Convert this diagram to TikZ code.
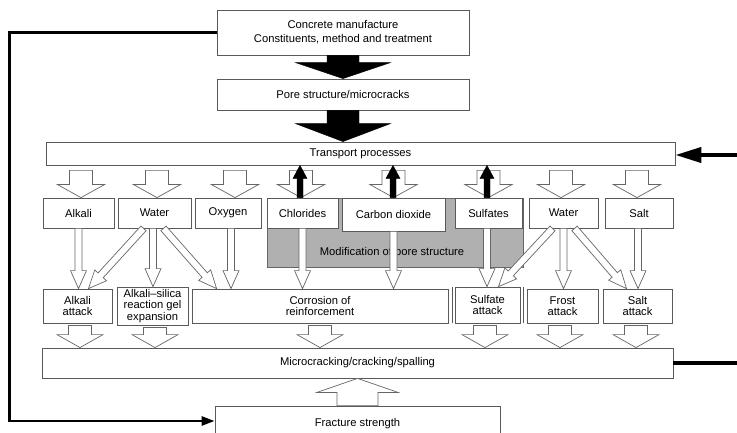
\documentclass[tikz,border=0pt]{standalone}
\usepackage{fontspec}
\setmainfont{Liberation Sans}
\usetikzlibrary{calc,arrows.meta}
\newcommand\fsz{\fontsize{11.2}{11.4}\selectfont}
% hollow / filled block arrow: [style]{start}{end}{half shaft}{half head}{head length}
\newcommand\harr[6][hollow]{%
  \coordinate (hA) at #2; \coordinate (hB) at #3;
  \coordinate (hC) at ($(hB)!#6!(hA)$);
  \draw[#1] ($(hA)!#4!90:(hB)$) -- ($(hC)!#4!-90:(hA)$) -- ($(hC)!#5!-90:(hA)$) -- (hB)
    -- ($(hC)!#5!90:(hA)$) -- ($(hC)!#4!90:(hA)$) -- ($(hA)!#4!-90:(hB)$) -- cycle;}
\tikzset{
  box/.style={draw=black!65, line width=0.8pt, fill=white, inner sep=1pt, align=center, font=\fsz},
  greybox/.style={draw=black!60, line width=0.8pt, fill=gray!62},
  hollow/.style={draw=black!60, line width=0.7pt, fill=white, line join=miter},
  blackarr/.style={draw=black, fill=black, line width=0.4pt},
  feed/.style={draw=black, line width=2.6pt},
}
\begin{document}
\begin{tikzpicture}[x=1pt,y=-1pt]
\useasboundingbox[fill=white] (0,0) rectangle (737,433);
% main column
\node[box, minimum width=252, minimum height=45] (top) at (343,32.5)
  {Concrete manufacture\\[2.5pt]Constituents, method and treatment};
\node[box, minimum width=252, minimum height=31] (pore) at (343,94.5) {Pore structure/microcracks};
\node[box, minimum width=629, minimum height=23] (transport) at (360.5,153.5) {Transport processes};
% grey area
\node[greybox, minimum width=256, minimum height=69] (grey) at (395,232.5) {};
\node[font=\fsz, inner sep=0pt] (modtxt) at (392,253) {Modification of pore structure};
% first row
\node[box, minimum width=71, minimum height=30] (alkali) at (78.5,213) {Alkali};
\node[box, minimum width=73, minimum height=30] (water) at (154.5,213) {Water};
\node[box, minimum width=66, minimum height=30] (oxygen) at (228,213) {Oxygen};
\node[box, minimum width=71, minimum height=30] (chlorides) at (302.5,213) {Chlorides};
\node[box, minimum width=103, minimum height=33] (co2) at (393.5,214.5) {Carbon dioxide};
\node[box, minimum width=67, minimum height=30] (sulfates) at (488.5,213) {Sulfates};
\node[box, minimum width=69, minimum height=30] (water2) at (563.5,213) {Water};
\node[box, minimum width=68, minimum height=30] (salt) at (639,213) {Salt};
% second row
\node[box, minimum width=69, minimum height=34] (aatk) at (77.5,306) {Alkali\\attack};
\node[box, minimum width=71, minimum height=38] (asr) at (152.5,306) {Alkali--silica\\reaction gel\\expansion};
\node[box, minimum width=256, minimum height=34] (corr) at (320,306) {Corrosion of\\reinforcement};
\node[box, minimum width=65, minimum height=36] (satk) at (487.5,305) {Sulfate\\attack};
\node[box, minimum width=71, minimum height=34] (frost) at (562.5,306) {Frost\\attack};
\node[box, minimum width=69, minimum height=34] (saltatk) at (637.5,306) {Salt\\attack};
\draw[draw=black!65, line width=0.8pt] ([xshift=-2.5pt]satk.north west) -- ([xshift=-2.5pt]satk.south west);
\draw[draw=black!65, line width=0.8pt] ([xshift=2.5pt]satk.north east) -- ([xshift=2.5pt]satk.south east);
% lower boxes
\node[box, minimum width=631, minimum height=30] (micro) at (357.5,363) {Microcracking/cracking/spalling};
\node[box, minimum width=285, minimum height=34, text depth=0pt] (fracture) at (357.5,423) {\raisebox{2pt}{Fracture strength}};

% black arrows in main column
\harr[blackarr]{(top.south)}{(pore.north)}{16pt}{47.5pt}{16pt}
\harr[blackarr]{(pore.south)}{(pore.south|-transport.north)}{16pt}{47.5pt}{18pt}

% hollow arrows transport -> first row
\foreach \n/\dx in {alkali/2.5, water/2.5, oxygen/7, chlorides/-1.5, co2/0, sulfates/0, water2/-2.5, salt/-2}{
  \harr{($(\n.north|-transport.south)+(\dx,5)$)}{($(\n.north)+(\dx,0)$)}{11.5pt}{23.5pt}{13pt}
}
% black arrows back to transport
\foreach \n/\dx in {chlorides/-2.5, co2/-0.5, sulfates/-1.5}{
  \harr[blackarr]{($(\n.north)+(\dx,0)$)}{($(\n.north|-transport.south)+(\dx,0)$)}{3pt}{7pt}{13pt}
}

% thin hollow arrows first row -> second row
\harr{(alkali.south)}{(alkali.south|-aatk.north)}{3.5pt}{8pt}{18pt}
\harr{($(water.south)+(-11,0)$)}{($(aatk.north)+(11,0)$)}{3.5pt}{8pt}{18pt}
\harr{($(water.south)+(-1.5,0)$)}{($(asr.north)+(0.5,0)$)}{3.5pt}{8pt}{18pt}
\harr{($(water.south)+(9,0)$)}{($(corr.north west)+(25,0)$)}{3.5pt}{8pt}{18pt}
\harr{($(oxygen.south)+(3,0)$)}{($(oxygen.south|-corr.north)+(3,0)$)}{3.5pt}{8pt}{18pt}
\harr{(chlorides.south)}{(chlorides.south|-corr.north)}{3.5pt}{8pt}{18pt}
\harr{(co2.south)}{(co2.south|-corr.north)}{3.5pt}{8pt}{18pt}
\harr{($(sulfates.south)+(-1.5,0)$)}{($(satk.north)+(-0.5,0)$)}{3.5pt}{8pt}{18pt}
\harr{($(water2.south)+(-11,0)$)}{($(satk.north)+(11,0)$)}{3.5pt}{8pt}{18pt}
\harr{(water2.south)}{(water2.south|-frost.north)}{3.5pt}{8pt}{18pt}
\harr{($(water2.south)+(11,0)$)}{($(saltatk.north)+(-11,0)$)}{3.5pt}{8pt}{18pt}
\harr{($(salt.south)+(-1,0)$)}{($(saltatk.north)+(0.5,0)$)}{3.5pt}{8pt}{18pt}

% hollow arrows second row -> micro
\foreach \n/\dx in {aatk/2.5, asr/2.5, corr/0, satk/-2.5, frost/-2.5, saltatk/-1.5}{
  \harr{($(\n.south)+(\dx,2)$)}{($(\n.south|-micro.north)+(\dx,0)$)}{11.5pt}{23pt}{13pt}
}
% fracture -> micro
\harr{(fracture.north)}{(micro.south)}{20.5pt}{40.5pt}{14pt}

% feedback lines
\draw[feed, -{Triangle[length=13pt,width=9pt]}] (top.west) -- ++(-207,0) |- ([yshift=2pt]fracture.west);
\coordinate (rin) at (737,155);
\draw[draw=black, line width=4pt, -{Triangle[length=26pt,width=15pt]}] (rin) -- (rin -| transport.east);
\coordinate (rout) at (737,363);
\draw[draw=black, line width=4pt] (micro.east) -- (rout);
\end{tikzpicture}
\end{document}
